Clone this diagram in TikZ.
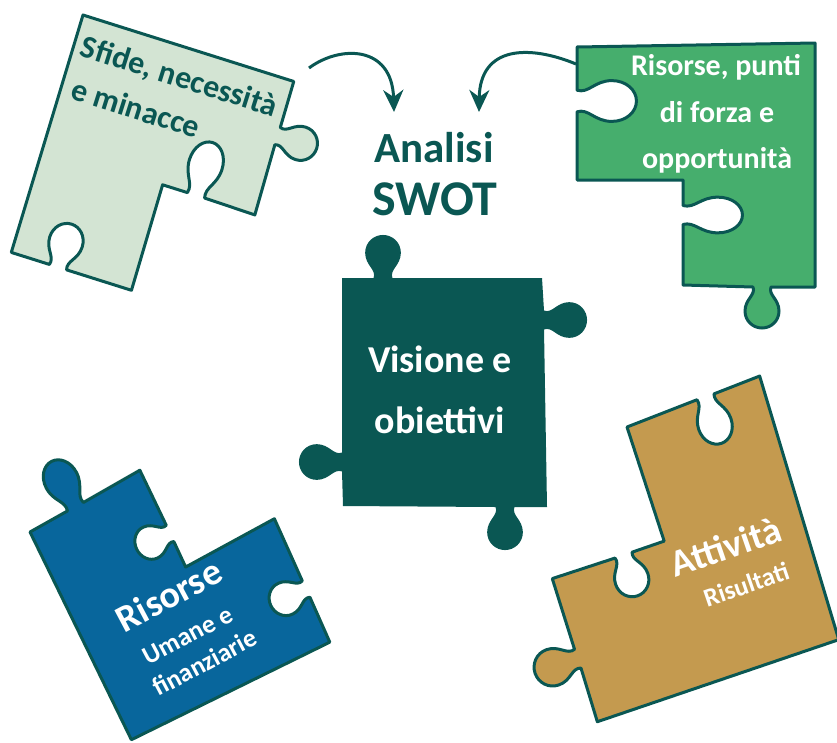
\documentclass[tikz,border=0pt]{standalone}
\usepackage{fontspec}
\setmainfont{Carlito}
\usetikzlibrary{arrows.meta}

\definecolor{swotdark}{RGB}{10,87,83}
\definecolor{sfidegreen}{RGB}{211,228,211}
\definecolor{forzagreen}{RGB}{70,174,109}
\definecolor{risorseblue}{RGB}{8,102,156}
\definecolor{attivtan}{RGB}{196,154,79}

% one knob of a piece: edge from (-9,0) to (9,0), head below
\newcommand\knob[1]{%
  -- ([#1]-9,0) .. controls ([#1]-6,8) and ([#1]-17,12) .. ([#1]-17,24)
  .. controls ([#1]-17,34) and ([#1]-9,41) .. ([#1]0,41)
  .. controls ([#1]9,41) and ([#1]17,34) .. ([#1]17,24)
  .. controls ([#1]17,12) and ([#1]6,8) .. ([#1]9,0)}

\tikzset{
  piece/.style={draw=swotdark,line width=3pt,line join=round},
  swotarrow/.style={draw=swotdark,line width=3pt,-{Stealth[length=22pt,width=20pt,inset=7pt]}},
  sfidetext/.style={text=swotdark,anchor=base west,inner sep=0pt,font=\bfseries\fontsize{32}{38}\selectfont},
  forzatext/.style={text=white,anchor=base,inner sep=0pt,font=\bfseries\fontsize{30}{36}\selectfont},
  visionetext/.style={text=white,anchor=base,inner sep=0pt,font=\bfseries\fontsize{38}{46}\selectfont},
  bigtitle/.style={text=white,anchor=base west,inner sep=0pt,font=\bfseries\fontsize{38}{44}\selectfont},
  smalltitle/.style={text=white,anchor=base west,inner sep=0pt,font=\bfseries\fontsize{26}{30}\selectfont}
}

\begin{document}
\begin{tikzpicture}[x=1pt,y=-1pt]
        \useasboundingbox (0,0) rectangle (837,742);

        %%% Sfide %%%
        \begin{scope}[shift={(83,15)},rotate=-17.5,transform shape]
          \draw[piece,fill=sfidegreen] (0,0) -- (3,248)
            \knob{shift={(52,248)},yscale=-1.1} -- (129,248) -- (127,138)
            \knob{shift={(162,138)},yscale=-1.35} -- (224,139)
            \knob{shift={(222,57)},rotate=90} -- (221,0) -- cycle;
          \node[sfidetext] (sfide1) at (8,40) {Sfide, necessità};
          \node[sfidetext] (sfide2) at (12,84) {e minacce};
        \end{scope}

        %%% Risorse, punti di forza %%%
        \draw[piece,fill=forzagreen] (815,43) -- (577,47)
          \knob{shift={(577,101)},rotate=-90,xscale=1.2,yscale=-1.45} -- (577,180) -- (683,180)
          \knob{shift={(683,215)},rotate=-90,xscale=1.05,yscale=-1.45} -- (683,285)
          \knob{shift={(762,287)}} -- (815,287) -- cycle;
        \node[forzatext] (forza1) at (716,75) {Risorse, punti};
        \node[forzatext] (forza2) at (717,122) {di forza e};
        \node[forzatext] (forza3) at (717,168) {opportunità};

        %%% Analisi SWOT %%%
        \node[text=swotdark,anchor=base,inner sep=0pt,font=\bfseries\fontsize{43}{50}\selectfont] (analisi) at (434,162) {Analisi};
        \node[text=swotdark,anchor=base,inner sep=0pt,font=\bfseries\fontsize{50}{58}\selectfont] (swot) at (435,215) {SWOT};
        \coordinate (sfidestart) at (309,68);
        \coordinate (swotleft) at (394,112);
        \coordinate (forzastart) at (576,64);
        \coordinate (swotright) at (479,112);
        \draw[swotarrow] (sfidestart) .. controls (340,45) and (392,45) .. (swotleft);
        \draw[swotarrow] (forzastart) .. controls (530,45) and (480,45) .. (swotright);

        %%% Visione e obiettivi %%%
        \fill[swotdark] (342,278)
          \knob{shift={(342,462)},rotate=-90,scale=1.05} -- (343,506)
          \knob{shift={(505,507)},scale=1.05} -- (547,507)
          \knob{shift={(544,320)},rotate=90,scale=1.05} -- (542,278)
          \knob{shift={(383,278)},rotate=180,scale=1.05} -- cycle;
        \node[visionetext] (visione) at (440,372) {Visione e};
        \node[visionetext] (obiettivi) at (440,433) {obiettivi};

        %%% Risorse umane %%%
        \begin{scope}[shift={(30,532)},rotate=28,transform shape]
          \draw[piece,fill=risorseblue] (0,0) -- (-8,231) -- (213,238)
            \knob{shift={(217,180)},rotate=87,yscale=-0.95} -- (222,103) -- (121,104)
            \knob{shift={(123,67)},rotate=87,yscale=-0.9} -- (126,-3)
            \knob{shift={(52,-1)},rotate=180,yscale=1.25} -- cycle;
          \node[bigtitle] (risorse) at (36,134) {Risorse};
          \node[smalltitle] (umane) at (42,174) {Umane e};
          \node[smalltitle] (finanz) at (36,206) {finanziarie};
        \end{scope}

        %%% Attivita %%%
        \begin{scope}[shift={(627,427)},rotate=19,transform shape]
          \draw[piece,fill=attivtan] (142,-5)
            \knob{shift={(84,-3)},rotate=180,yscale=-1.2} -- (0,0) -- (-2,120)
            \knob{shift={(-45,120)},rotate=180,yscale=-1.05} -- (-120,119)
            \knob{shift={(-122,203)},rotate=-90,xscale=1.1,yscale=1.1} -- (-124,269)
            -- (131,270) -- cycle;
          \node[bigtitle] (attivita) at (-3,158) {Attività};
          \node[smalltitle] (risultati) at (17,197) {Risultati};
        \end{scope}

\end{tikzpicture}
\end{document}
